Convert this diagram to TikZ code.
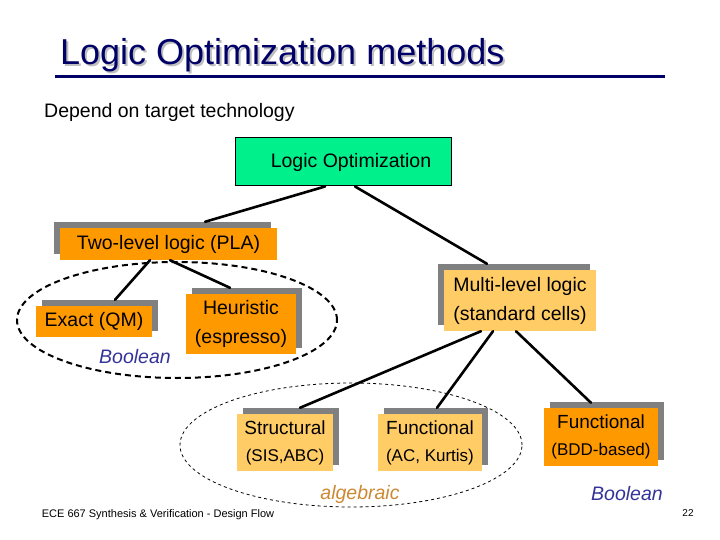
\documentclass[tikz,border=0pt]{standalone}
\usepackage{fontspec}
\setmainfont{Liberation Sans}
\usetikzlibrary{shadows,shapes.geometric}
\definecolor{lgreen}{HTML}{00F08C}
\definecolor{dorange}{HTML}{FF9900}
\definecolor{lorange}{HTML}{FFCC66}
\definecolor{navy}{HTML}{000066}
\definecolor{bblue}{HTML}{333399}
\definecolor{algcol}{HTML}{CC8833}
\definecolor{shgray}{HTML}{808080}
\tikzset{
  box/.style={rectangle, inner sep=0pt, align=center, font=\fontsize{19.5}{29}\selectfont},
  boxsmall/.style={rectangle, inner sep=0pt, align=center, font=\fontsize{19}{27}\selectfont},
  shadowleft/.style={drop shadow={shadow xshift=-6pt, shadow yshift=6pt, fill=shgray, opacity=1}},
  shadowright/.style={drop shadow={shadow xshift=6pt, shadow yshift=6pt, fill=shgray, opacity=1}},
  conn/.style={line width=2.6pt, line cap=round},
  lbl/.style={inner sep=0pt, font=\fontsize{19.5}{23}\selectfont\itshape},
}
\begin{document}
\begin{tikzpicture}[x=1pt,y=-1pt]
\useasboundingbox (0,0) rectangle (720,540);
% title
\node[anchor=west, inner sep=0pt, text=black!25, font=\fontsize{36}{40}\selectfont] (titleshadow) at (62,57) {Logic Optimization methods};
\node[anchor=west, inner sep=0pt, text=navy, font=\fontsize{36}{40}\selectfont] (title) at (60,55) {Logic Optimization methods};
\coordinate (ula) at (55,77);
\coordinate (ulb) at (665,77);
\draw[navy, line width=3pt] (ula) -- (ulb);
\node[anchor=west, inner sep=0pt, font=\fontsize{19.5}{23}\selectfont] (depend) at (44,112) {Depend on target technology};
% ellipses
\node[draw, dash pattern=on 6pt off 4pt, line width=2pt, ellipse, minimum width=320, minimum height=116, inner sep=0pt] (boolell) at (177,320) {};
\node[draw, dash pattern=on 3pt off 3pt, line width=0.8pt, ellipse, minimum width=342, minimum height=124, inner sep=0pt] (algell) at (351,445) {};
% boxes
\node[box, draw=black, line width=1pt, fill=lgreen, minimum width=216, minimum height=48] (lo) at (343,162) {\hspace*{16pt}Logic Optimization};
\node[box, fill=dorange, shadowleft, minimum width=217, minimum height=32] (pla) at (168.5,244) {Two-level logic (PLA)};
\node[box, fill=dorange, shadowright, minimum width=116, minimum height=31] (qm) at (94,321.5) {Exact (QM)};
\node[box, fill=dorange, shadowright, minimum width=110, minimum height=60] (heur) at (241,324) {Heuristic\\(espresso)};
\node[box, fill=lorange, shadowleft, minimum width=152, minimum height=61] (ml) at (520,300.5) {Multi-level logic\\(standard cells)};
\node[boxsmall, fill=lorange, shadowright, minimum width=96, minimum height=57] (st) at (285,442.5) {Structural\\{\fontsize{17}{20}\selectfont (SIS,ABC)}};
\node[boxsmall, fill=lorange, shadowright, minimum width=104, minimum height=57] (fn) at (430,442.5) {Functional\\{\fontsize{17}{20}\selectfont (AC, Kurtis)}};
\node[boxsmall, fill=dorange, shadowright, minimum width=114, minimum height=58] (bdd) at (601,437) {Functional\\{\fontsize{17}{20}\selectfont (BDD-based)}};
% connectors
\draw[conn] ([xshift=-18pt]lo.south) -- ([xshift=36.5pt,yshift=6pt]pla.north);
\draw[conn] ([xshift=12pt]lo.south) -- ([xshift=-33pt,yshift=6pt]ml.north);
\draw[conn] ([xshift=-18.5pt]pla.south) -- ([xshift=21pt,yshift=6pt]qm.north);
\draw[conn] ([xshift=1.5pt]pla.south) -- ([xshift=-11pt,yshift=6pt]heur.north);
\draw[conn] ([xshift=-39pt]ml.south) -- ([xshift=15pt,yshift=6pt]st.north);
\draw[conn] ([xshift=-27pt]ml.south) -- ([xshift=7pt,yshift=6pt]fn.north);
\draw[conn] ([xshift=-4pt]ml.south) -- ([xshift=-10pt,yshift=5pt]bdd.north);
% labels
\node[lbl, text=bblue] (boolA) at (135,357) {Boolean};
\node[lbl, text=algcol] (alg) at (360,494) {algebraic};
\node[lbl, text=bblue] (boolB) at (627,494) {Boolean};
\node[inner sep=0pt, font=\fontsize{11}{13}\selectfont] (footer) at (158,515) {ECE 667 Synthesis \& Verification - Design Flow};
\node[inner sep=0pt, font=\fontsize{10}{12}\selectfont] (pagenum) at (688,513) {22};
\end{tikzpicture}
\end{document}
